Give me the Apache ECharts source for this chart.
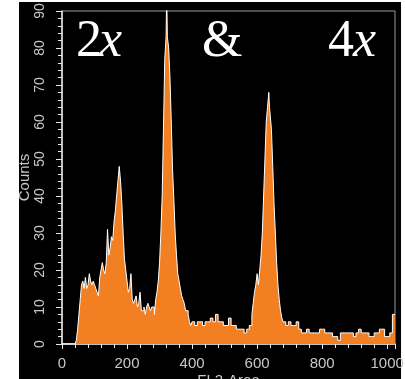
<!DOCTYPE html>
<html>
<head>
<meta charset="utf-8">
<script src="https://cdn.jsdelivr.net/npm/echarts@6/dist/echarts.min.js"></script>
<style>
html,body{margin:0;padding:0;background:#fff;width:405px;height:379px;overflow:hidden;}
#bg{position:absolute;left:19px;top:2px;width:382px;height:377px;background:#000;}
#chart{position:absolute;left:0;top:0;width:405px;height:379px;}
</style>
</head>
<body>
<div id="bg"></div>
<div id="chart"></div>
<script>
// FL2-Area channel (bin start) and event counts
const binStart = [
  0, 8, 16, 24, 32, 40, 44, 48, 52, 56,
  60, 64, 68, 72, 76, 80, 84, 88, 92, 96,
  100, 104, 108, 112, 116, 120, 124, 128, 132, 136,
  140, 144, 148, 152, 156, 160, 164, 168, 172, 176,
  180, 184, 188, 192, 196, 200, 204, 208, 212, 216,
  220, 224, 228, 232, 236, 240, 244, 248, 252, 256,
  260, 264, 268, 272, 276, 280, 284, 288, 292, 296,
  300, 304, 308, 312, 316, 320, 322, 324, 328, 332,
  336, 340, 344, 348, 352, 356, 360, 364, 368, 372,
  376, 380, 384, 388, 392, 396, 400, 408, 416, 424,
  432, 440, 448, 456, 464, 472, 480, 488, 496, 504,
  512, 520, 528, 536, 544, 552, 560, 568, 576, 584,
  588, 592, 596, 600, 604, 608, 612, 616, 620, 624,
  628, 632, 636, 638, 640, 644, 648, 652, 656, 660,
  664, 668, 672, 676, 680, 688, 696, 704, 712, 720,
  728, 736, 744, 752, 760, 768, 776, 784, 792, 800,
  808, 816, 824, 832, 840, 848, 856, 864, 872, 880,
  888, 896, 904, 912, 920, 928, 936, 944, 952, 960,
  968, 976, 984, 992, 1000, 1008, 1016
];
const counts = [
  0, 0, 0, 0, 0, 0, 1, 4, 8, 12,
  16, 17, 15, 18, 15, 16, 19, 17, 16, 17,
  16, 15, 14, 13, 18, 20, 22, 20, 19, 22,
  31, 24, 26, 29, 28, 33, 36, 40, 44, 48,
  44, 38, 30, 23, 20, 17, 14, 15, 19, 12,
  11, 12, 13, 10, 11, 14, 9, 9, 10, 8,
  10, 11, 10, 9, 10, 10, 8, 12, 14, 17,
  22, 30, 40, 58, 77, 83, 95, 83, 80, 72,
  60, 47, 39, 30, 24, 19, 17, 15, 13, 12,
  11, 9, 9, 8, 6, 5, 6, 5, 6, 6,
  5, 6, 6, 7, 6, 8, 6, 6, 5, 5,
  7, 5, 5, 4, 4, 4, 3, 4, 5, 8,
  11, 14, 16, 19, 16, 20, 24, 30, 40, 50,
  60, 64, 68, 64, 64, 58, 48, 38, 30, 22,
  16, 12, 9, 7, 6, 5, 6, 5, 5, 6,
  4, 3, 3, 4, 3, 3, 3, 3, 4, 4,
  3, 3, 3, 2, 2, 1, 3, 3, 3, 3,
  3, 2, 3, 4, 3, 3, 3, 2, 2, 3,
  3, 4, 4, 2, 2, 3, 8
];
const channelMax = 1024;
const xTickStep = 200;
const yMax = 90;
const yTickStep = 10;
const xName = 'FL2-Area';
const yName = 'Counts';
const overlayLabels = ['2', 'x', '&', '4', 'x'];

const seriesData = binStart.map((x, i) => [x, counts[i]]);
seriesData.push([channelMax, counts[counts.length - 1]]);

const chart = echarts.init(document.getElementById('chart'), null, {renderer: 'canvas'});
const labelColor = '#c8c8c8';
const sans = '"Liberation Sans", Arial, sans-serif';
const serifBig = {fill: '#fff', fontFamily: '"Liberation Serif", "DejaVu Serif", serif', fontSize: 52};

chart.setOption({
  backgroundColor: 'transparent',
  animation: false,
  grid: {left: 62, right: 10, top: 11, bottom: 35, show: true, borderColor: '#9a9a9a', borderWidth: 1,
         backgroundColor: 'transparent', containLabel: false, outerBoundsMode: 'none'},
  xAxis: {
    type: 'value', min: 0, max: channelMax, interval: xTickStep,
    name: xName, nameLocation: 'middle', nameGap: 29, nameMoveOverlap: false,
    nameTextStyle: {color: labelColor, fontSize: 15, fontFamily: sans},
    axisLine: {show: true, lineStyle: {color: '#e8e8e8', width: 1.5}},
    axisTick: {show: true, length: 5, lineStyle: {color: '#e8e8e8'}},
    minorTick: {show: true, splitNumber: 5, length: 4, lineStyle: {color: '#e8e8e8'}},
    splitLine: {show: false},
    axisLabel: {color: labelColor, fontSize: 15, margin: 12, showMaxLabel: false, fontFamily: sans,
                formatter: v => String(v)}
  },
  yAxis: {
    type: 'value', min: 0, max: yMax, interval: yTickStep,
    name: yName, nameLocation: 'middle', nameGap: 30, nameMoveOverlap: false,
    nameTextStyle: {color: labelColor, fontSize: 15, fontFamily: sans},
    axisLine: {show: true, lineStyle: {color: '#e8e8e8', width: 1.5}},
    axisTick: {show: true, length: 6, lineStyle: {color: '#e8e8e8'}},
    minorTick: {show: true, splitNumber: 5, length: 4, lineStyle: {color: '#e8e8e8'}},
    splitLine: {show: false},
    axisLabel: {color: labelColor, fontSize: 14, rotate: 90, margin: 15, fontFamily: sans}
  },
  series: [{
    type: 'line',
    data: seriesData,
    step: 'end',
    symbol: 'none',
    clip: true,
    lineStyle: {color: '#ffffff', width: 1},
    areaStyle: {color: '#f27f22', opacity: 1},
    z: 3
  }],
  graphic: [
    {type: 'text', left: 76, top: 16, z: 10, style: Object.assign({}, serifBig, {text: overlayLabels[0]})},
    {type: 'text', left: 99, top: 16, z: 10, style: Object.assign({}, serifBig, {text: overlayLabels[1], fontStyle: 'italic'})},
    {type: 'text', left: 202, top: 16, z: 10, style: Object.assign({}, serifBig, {text: overlayLabels[2]})},
    {type: 'text', left: 328, top: 16, z: 10, style: Object.assign({}, serifBig, {text: overlayLabels[3]})},
    {type: 'text', left: 353, top: 16, z: 10, style: Object.assign({}, serifBig, {text: overlayLabels[4], fontStyle: 'italic'})}
  ]
});
</script>
</body>
</html>
